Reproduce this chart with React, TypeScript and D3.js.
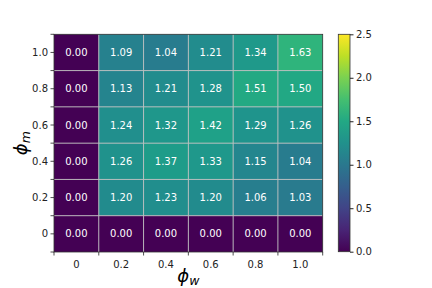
import React, { useEffect, useRef } from "react"
import * as d3 from "d3"

// grid values, rows listed top to bottom (phi_m = 1.0 ... 0)
const phiW = ["0", "0.2", "0.4", "0.6", "0.8", "1.0"]
const phiM = ["1.0", "0.8", "0.6", "0.4", "0.2", "0"]
const row10 = [0.0, 1.09, 1.04, 1.21, 1.34, 1.63]
const row08 = [0.0, 1.13, 1.21, 1.28, 1.51, 1.5]
const row06 = [0.0, 1.24, 1.32, 1.42, 1.29, 1.26]
const row04 = [0.0, 1.26, 1.37, 1.33, 1.15, 1.04]
const row02 = [0.0, 1.2, 1.23, 1.2, 1.06, 1.03]
const row00 = [0.0, 0.0, 0.0, 0.0, 0.0, 0.0]
const rows = [row10, row08, row06, row04, row02, row00]
const cbarTicks = [0, 0.5, 1.0, 1.5, 2.0, 2.5]

const App = () => {
	const ref = useRef<SVGSVGElement>(null)

	useEffect(() => {
		const W = 432
		const H = 288
		const left = 54
		const right = 322.7
		const top = 34.3
		const bottom = 252
		const font = "DejaVu Sans, sans-serif"
		const fs = "10px"

		const svg = d3.select(ref.current).attr("width", W).attr("height", H)
		svg.selectAll("*").remove()

		const x = d3.scaleBand().domain(phiW).range([left, right])
		const y = d3.scaleBand().domain(phiM).range([top, bottom])
		const color = d3.scaleSequential(d3.interpolateViridis).domain([0, 2.5])

		const cells = rows.flatMap((r, i) =>
			r.map((v, j) => ({ row: phiM[i], col: phiW[j], value: v })),
		)

		svg
			.append("g")
			.selectAll("rect")
			.data(cells)
			.join("rect")
			.attr("x", d => x(d.col))
			.attr("y", d => y(d.row))
			.attr("width", x.bandwidth())
			.attr("height", y.bandwidth())
			.attr("fill", d => color(d.value))

		// light grid between cells
		const grid = svg.append("g").attr("stroke", "#bfbfbf").attr("stroke-width", 0.9)
		phiW.slice(1).forEach(c => {
			grid.append("line").attr("x1", x(c)).attr("x2", x(c)).attr("y1", top).attr("y2", bottom)
		})
		phiM.slice(1).forEach(r => {
			grid.append("line").attr("x1", left).attr("x2", right).attr("y1", y(r)).attr("y2", y(r))
		})

		svg
			.append("g")
			.selectAll("text")
			.data(cells)
			.join("text")
			.attr("x", d => x(d.col) + x.bandwidth() / 2)
			.attr("y", d => y(d.row) + y.bandwidth() / 2)
			.attr("text-anchor", "middle")
			.attr("dominant-baseline", "central")
			.attr("fill", "white")
			.style("font-family", font)
			.style("font-size", fs)
			.text(d => d.value.toFixed(2))

		// frame
		svg
			.append("rect")
			.attr("x", left)
			.attr("y", top)
			.attr("width", right - left)
			.attr("height", bottom - top)
			.attr("fill", "none")
			.attr("stroke", "#333")
			.attr("stroke-width", 0.8)

		// x axis: ticks at cell edges, labels at centres
		const xAxisG = svg.append("g").style("font-family", font).style("font-size", fs)
		const xEdges = phiW.map(c => x(c)).concat([right])
		xEdges.forEach(px => {
			xAxisG.append("line").attr("x1", px).attr("x2", px).attr("y1", bottom).attr("y2", bottom + 3.5).attr("stroke", "#222").attr("stroke-width", 0.8)
		})
		phiW.forEach(c => {
			xAxisG
				.append("text")
				.attr("x", x(c) + x.bandwidth() / 2)
				.attr("y", bottom + 16)
				.attr("text-anchor", "middle")
				.attr("fill", "#222")
				.text(c)
		})

		// y axis: ticks at edges and centres
		const yAxisG = svg.append("g").style("font-family", font).style("font-size", fs)
		const yEdges = phiM.map(r => y(r)).concat([bottom])
		yEdges.forEach(py => {
			yAxisG.append("line").attr("x1", left - 3.5).attr("x2", left).attr("y1", py).attr("y2", py).attr("stroke", "#222").attr("stroke-width", 0.8)
		})
		phiM.forEach(r => {
			const cy = y(r) + y.bandwidth() / 2
			yAxisG.append("line").attr("x1", left - 3.5).attr("x2", left).attr("y1", cy).attr("y2", cy).attr("stroke", "#222").attr("stroke-width", 0.8)
			yAxisG
				.append("text")
				.attr("x", left - 6)
				.attr("y", cy)
				.attr("text-anchor", "end")
				.attr("dominant-baseline", "central")
				.attr("fill", "#222")
				.text(r)
		})

		// axis titles
		const xt = svg
			.append("text")
			.attr("x", (left + right) / 2)
			.attr("y", 282)
			.attr("text-anchor", "middle")
			.style("font-family", font)
			.style("font-size", "18px")
			.style("font-style", "italic")
		xt.append("tspan").text("\u03d5")
		xt.append("tspan").attr("dy", 3).style("font-size", "12.5px").text("w")

		const yt = svg
			.append("text")
			.attr("transform", `translate(27, ${(top + bottom) / 2}) rotate(-90)`)
			.attr("text-anchor", "middle")
			.style("font-family", font)
			.style("font-size", "18px")
			.style("font-style", "italic")
		yt.append("tspan").text("\u03d5")
		yt.append("tspan").attr("dy", 3).style("font-size", "12.5px").text("m")

		// colorbar
		const cbX = 338.3
		const cbW = 11.7
		const cb = d3.scaleLinear().domain([0, 2.5]).range([251.7, 34.3])
		const defs = svg.append("defs")
		const grad = defs
			.append("linearGradient")
			.attr("id", "viridis-grad")
			.attr("x1", "0")
			.attr("y1", "1")
			.attr("x2", "0")
			.attr("y2", "0")
		d3.range(0, 1.0001, 0.1).forEach(t => {
			grad.append("stop").attr("offset", t).attr("stop-color", d3.interpolateViridis(t))
		})
		svg
			.append("rect")
			.attr("x", cbX)
			.attr("y", cb(2.5))
			.attr("width", cbW)
			.attr("height", cb(0) - cb(2.5))
			.attr("fill", "url(#viridis-grad)")
			.attr("stroke", "#333")
			.attr("stroke-width", 0.8)

		const cbAxis = d3
			.axisRight(cb)
			.tickValues(cbarTicks)
			.tickFormat(d3.format(".1f"))
			.tickSize(3.5)
			.tickPadding(2.5)
		svg
			.append("g")
			.attr("transform", `translate(${cbX + cbW}, 0)`)
			.call(cbAxis)
			.style("font-family", font)
			.style("font-size", fs)
			.call(g => g.select(".domain").remove())
			.call(g => g.selectAll("line").attr("stroke", "#222"))
			.call(g => g.selectAll("text").attr("fill", "#222"))
	}, [])

	return <svg ref={ref} style={{ display: "block", position: "absolute", left: 0, top: 0 }}></svg>
}

export default App
